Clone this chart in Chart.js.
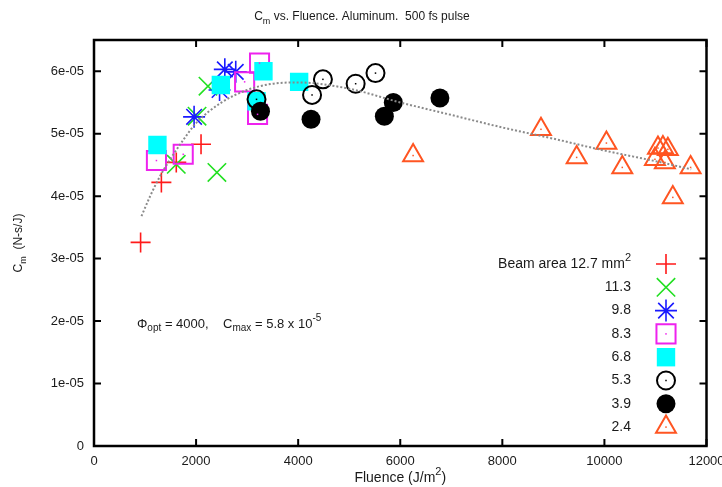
<!DOCTYPE html>
<html>
<head>
<meta charset="utf-8">
<script src="https://cdn.jsdelivr.net/npm/chart.js@4.4.1/dist/chart.umd.min.js"></script>
<style>
  html, body { margin: 0; padding: 0; background: #fff; }
  #wrap { width: 722px; height: 487px; }
</style>
</head>
<body>
<div id="wrap"><canvas id="cm-chart" width="722" height="487"></canvas></div>
<script>
'use strict';

// Section 1: data (fluence in J/m^2, Cm in N-s/J)
const beamAreas = ["12.7", "11.3", "9.8", "8.3", "6.8", "5.3", "3.9", "2.4"];

const fluence127 = [913, 1320, 1612, 2097];
const cm127 = [3.26e-5, 4.22e-5, 4.54e-5, 4.83e-5];

const fluence113 = [1612, 2019, 2233, 2408];
const cm113 = [4.51e-5, 5.28e-5, 5.76e-5, 4.38e-5];

const fluence98 = [1961, 2460, 2563, 2777];
const cm98 = [5.27e-5, 5.70e-5, 6.03e-5, 5.99e-5];

const fluence83 = [1223, 1748, 2951, 3243, 3204];
const cm83 = [4.57e-5, 4.67e-5, 5.83e-5, 6.13e-5, 5.31e-5];

const fluence68 = [1243, 2485, 3320, 4019, 3184];
const cm68 = [4.82e-5, 5.78e-5, 6.00e-5, 5.83e-5, 5.52e-5];

const fluence53 = [3184, 4272, 4485, 5126, 5515];
const cm53 = [5.55e-5, 5.62e-5, 5.87e-5, 5.80e-5, 5.97e-5];

const fluence39 = [3262, 4252, 5689, 5864, 6777];
const cm39 = [5.36e-5, 5.23e-5, 5.28e-5, 5.50e-5, 5.57e-5];

const fluence24 = [6252, 8757, 9456, 10039, 10350, 10990, 11049, 11146, 11243, 11184, 11689, 11340];
const cm24 = [4.65e-5, 5.07e-5, 4.62e-5, 4.85e-5, 4.46e-5, 4.59e-5, 4.77e-5, 4.78e-5, 4.75e-5, 4.54e-5, 4.46e-5, 3.98e-5];

// dotted fit curve
const fitFluence = [930, 1100, 1300, 1500, 1750, 2000, 2500, 3000, 3500, 4000, 5000, 6000, 7000, 8000, 9000, 10000, 11000, 11700];
const fitCm = [3.68e-5, 4.00e-5, 4.33e-5, 4.60e-5, 4.90e-5, 5.17e-5, 5.50e-5, 5.70e-5, 5.80e-5, 5.82e-5, 5.72e-5, 5.50e-5, 5.30e-5, 5.10e-5, 4.92e-5, 4.73e-5, 4.56e-5, 4.43e-5];

const xTicks = [0, 2000, 4000, 6000, 8000, 10000, 12000];
const yTicks = [0, 1e-5, 2e-5, 3e-5, 4e-5, 5e-5, 6e-5];

const FONT = "'Liberation Sans', Arial, Helvetica, sans-serif";

function toPoints(xs, ys) {
    return xs.map((x, i) => ({x: x, y: ys[i]}));
}

function formatCm(v) {
    if (Math.abs(v) < 1e-12) return "0";
    const e = Math.floor(Math.log10(v) + 1e-9);
    const m = Math.round(v / Math.pow(10, e));
    return `${m}e-0${-e}`;
}

// Section 2: rich text helper (sub / superscripts)
function drawRich(ctx, parts, x, y, align, size) {
    const small = Math.round(size * 0.75);
    let total = 0;
    for (const p of parts) {
        ctx.font = `${p[1] ? small : size}px ${FONT}`;
        total += ctx.measureText(p[0]).width;
    }
    let cx = x;
    if (align === "center") cx = x - total / 2;
    if (align === "right") cx = x - total;
    ctx.textAlign = "left";
    ctx.textBaseline = "middle";
    for (const p of parts) {
        ctx.font = `${p[1] ? small : size}px ${FONT}`;
        let dy = 0;
        if (p[1] === "sub") dy = size * 0.35;
        if (p[1] === "sup") dy = -size * 0.42;
        ctx.fillText(p[0], cx, y + dy);
        cx += ctx.measureText(p[0]).width;
    }
}

// Section 3: datasets
const seriesStyles = [
    {data: toPoints(fluence127, cm127), pointStyle: "cross", pointRadius: 10, borderColor: "#ff1a1a", backgroundColor: "#ff1a1a", pointBorderWidth: 1.6, dot: false},
    {data: toPoints(fluence113, cm113), pointStyle: "crossRot", pointRadius: 13, borderColor: "#22e022", backgroundColor: "#22e022", pointBorderWidth: 1.6, dot: false},
    {data: toPoints(fluence98, cm98), pointStyle: "star", pointRadius: 11, borderColor: "#1a1aff", backgroundColor: "#1a1aff", pointBorderWidth: 1.6, dot: false},
    {data: toPoints(fluence83, cm83), pointStyle: "rect", pointRadius: 13.5, borderColor: "#ee22ee", backgroundColor: "rgba(0,0,0,0)", pointBorderWidth: 2, dot: true},
    {data: toPoints(fluence68, cm68), pointStyle: "rect", pointRadius: 13, borderColor: "#00ffff", backgroundColor: "#00ffff", pointBorderWidth: 0, dot: false},
    {data: toPoints(fluence53, cm53), pointStyle: "circle", pointRadius: 9, borderColor: "#000000", backgroundColor: "rgba(0,0,0,0)", pointBorderWidth: 2, dot: true},
    {data: toPoints(fluence39, cm39), pointStyle: "circle", pointRadius: 9.5, borderColor: "#000000", backgroundColor: "#000000", pointBorderWidth: 0, dot: false},
    {data: toPoints(fluence24, cm24), pointStyle: "triangle", pointRadius: 11.5, borderColor: "#ff5522", backgroundColor: "rgba(0,0,0,0)", pointBorderWidth: 2, dot: true},
];

const datasets = [
    {
        label: "fit",
        data: toPoints(fitFluence, fitCm),
        showLine: true,
        borderColor: "#8a8a8a",
        borderWidth: 2,
        borderDash: [2, 2],
        pointRadius: 0,
        cubicInterpolationMode: "monotone",
        order: 0,
    },
];

seriesStyles.forEach((s, i) => {
    datasets.push({
        label: beamAreas[i],
        data: s.data,
        showLine: false,
        pointStyle: s.pointStyle,
        pointRadius: s.pointRadius,
        pointHoverRadius: s.pointRadius,
        pointBorderColor: s.borderColor,
        pointBackgroundColor: s.backgroundColor,
        pointBorderWidth: s.pointBorderWidth,
        borderColor: s.borderColor,
        backgroundColor: s.backgroundColor,
        dot: s.dot,
        order: seriesStyles.length - i,
    });
});

// Section 4: plugin for frame, inner ticks, titles, legend and the note
const decorPlugin = {
    id: "decor",
    afterDatasetsDraw(chart) {
        const ctx = chart.ctx;
        ctx.save();
        chart.data.datasets.forEach((ds, i) => {
            if (!ds.dot) return;
            const meta = chart.getDatasetMeta(i);
            ctx.fillStyle = ds.borderColor;
            for (const el of meta.data) {
                ctx.fillRect(el.x - 0.75, el.y - 0.75, 1.5, 1.5);
            }
        });
        ctx.restore();
    },
    afterDraw(chart) {
        const ctx = chart.ctx;
        const area = chart.chartArea;
        const xs = chart.scales.x;
        const ys = chart.scales.y;
        ctx.save();

        // inner ticks on all four sides
        ctx.strokeStyle = "#000";
        ctx.lineWidth = 2;
        ctx.beginPath();
        for (const v of xTicks) {
            const px = xs.getPixelForValue(v);
            ctx.moveTo(px, area.bottom);
            ctx.lineTo(px, area.bottom - 7);
            ctx.moveTo(px, area.top);
            ctx.lineTo(px, area.top + 7);
        }
        for (const v of yTicks) {
            const py = ys.getPixelForValue(v);
            ctx.moveTo(area.left, py);
            ctx.lineTo(area.left + 7, py);
            ctx.moveTo(area.right, py);
            ctx.lineTo(area.right - 7, py);
        }
        ctx.stroke();
        ctx.lineWidth = 2.5;
        ctx.strokeRect(area.left, area.top, area.right - area.left, area.bottom - area.top);

        ctx.fillStyle = "#1a1a1a";
        const midX = (area.left + area.right) / 2;
        const midY = (area.top + area.bottom) / 2;

        // title
        drawRich(ctx, [["C"], ["m", "sub"], [" vs. Fluence. Aluminum.  500 fs pulse"]], 362, 17, "center", 12);

        // axis titles
        drawRich(ctx, [["Fluence (J/m"], ["2", "sup"], [")"]], midX, 478, "center", 14);
        ctx.save();
        ctx.translate(19, midY);
        ctx.rotate(-Math.PI / 2);
        drawRich(ctx, [["C"], ["m", "sub"], ["  (N-s/J)"]], 0, 0, "center", 12);
        ctx.restore();

        // note
        drawRich(ctx, [["\u03A6"], ["opt", "sub"], [" = 4000,    C"], ["max", "sub"], [" = 5.8 x 10"], ["-5", "sup"]], 137, 324, "left", 13);

        // legend
        const legendTextX = 631;
        const legendMarkX = 666;
        const legendTop = 264;
        const legendStep = 23.3;
        seriesStyles.forEach((s, i) => {
            const ly = legendTop + i * legendStep;
            ctx.fillStyle = "#1a1a1a";
            if (i === 0) {
                drawRich(ctx, [["Beam area " + beamAreas[i] + " mm"], ["2", "sup"]], legendTextX, ly, "right", 14);
            } else {
                drawRich(ctx, [[beamAreas[i]]], legendTextX, ly, "right", 14);
            }
            ctx.save();
            ctx.strokeStyle = s.borderColor;
            ctx.fillStyle = s.backgroundColor;
            ctx.lineWidth = s.pointBorderWidth;
            Chart.helpers.drawPoint(ctx, {
                pointStyle: s.pointStyle,
                radius: s.pointRadius,
                rotation: 0,
                borderWidth: s.pointBorderWidth,
            }, legendMarkX, ly);
            if (s.dot) {
                ctx.fillStyle = s.borderColor;
                ctx.fillRect(legendMarkX - 0.75, ly - 0.75, 1.5, 1.5);
            }
            ctx.restore();
        });

        ctx.restore();
    },
};

// Section 5: chart
Chart.defaults.font.family = FONT;
Chart.defaults.font.size = 13;
Chart.defaults.color = "#1a1a1a";

const cmCtx = document.querySelector("#cm-chart");

const cmChart = new Chart(cmCtx, {
    type: "scatter",
    data: {datasets: datasets},
    options: {
        responsive: false,
        animation: false,
        layout: {
            padding: {left: 0, right: 10, top: 40, bottom: 0},
        },
        scales: {
            x: {
                type: "linear",
                min: 0,
                max: 12000,
                grid: {display: false, drawTicks: false},
                border: {display: false},
                afterBuildTicks: scale => {
                    scale.ticks = xTicks.map(v => ({value: v}));
                },
                afterFit: scale => {
                    scale.height = 41;
                    scale.paddingLeft = 0;
                    scale.paddingRight = 0;
                },
                ticks: {
                    padding: 8,
                    maxRotation: 0,
                    autoSkip: false,
                    callback: value => `${value}`,
                },
            },
            y: {
                type: "linear",
                min: 0,
                max: 6.5e-5,
                grid: {display: false, drawTicks: false},
                border: {display: false},
                afterBuildTicks: scale => {
                    scale.ticks = yTicks.map(v => ({value: v}));
                },
                afterFit: scale => {
                    scale.width = 94;
                    scale.paddingTop = 0;
                    scale.paddingBottom = 0;
                },
                ticks: {
                    padding: 10,
                    autoSkip: false,
                    callback: value => formatCm(value),
                },
            },
        },
        plugins: {
            legend: {display: false},
            tooltip: {enabled: false},
            title: {display: false},
        },
    },
    plugins: [decorPlugin],
});
</script>
</body>
</html>
